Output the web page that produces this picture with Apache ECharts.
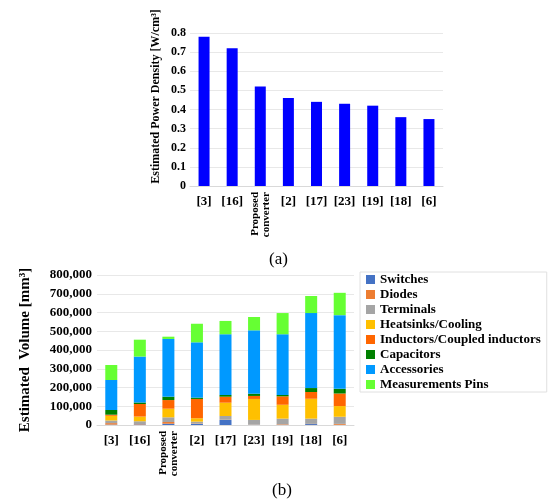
<!DOCTYPE html>
<html>
<head>
<meta charset="utf-8">
<script src="https://cdn.jsdelivr.net/npm/echarts@6/dist/echarts.min.js"></script>
<style>
html, body { margin: 0; padding: 0; background: #fff; }
#main { width: 556px; height: 502px; }
</style>
</head>
<body>
<div id="main"></div>
<script>
var categories = ['[3]', '[16]', 'Proposed\nconverter', '[2]', '[17]', '[23]', '[19]', '[18]', '[6]'];

// (a) power density, W/cm3
var powerDensity = [0.78, 0.72, 0.52, 0.46, 0.44, 0.43, 0.42, 0.36, 0.35];

// (b) volume breakdown, mm3
var switches    = [2000, 3000, 7000, 6000, 27000, 1000, 1000, 5000, 1000];
var diodes      = [8000, 2000, 9000, 2000, 1000, 1000, 3000, 1000, 5000];
var terminals   = [14000, 15000, 25000, 10000, 20000, 25000, 30000, 28000, 38000];
var heatsinks   = [25000, 25000, 46000, 18000, 71000, 112000, 74000, 106000, 57000];
var inductors   = [6000, 67000, 46000, 103000, 32000, 16000, 45000, 36000, 67000];
var capacitors  = [25000, 8000, 18000, 7000, 9000, 12000, 7000, 21000, 25000];
var accessories = [160000, 245000, 308000, 295000, 324000, 338000, 324000, 400000, 393000];
var pins        = [80000, 90000, 12000, 99000, 71000, 71000, 113000, 91000, 119000];

var partNames = ['Switches', 'Diodes', 'Terminals', 'Heatsinks/Cooling',
	'Inductors/Coupled inductors', 'Capacitors', 'Accessories', 'Measurements Pins'];
var partColors = ['#4472C4', '#ED7D31', '#A5A5A5', '#FFC000', '#FF6600', '#008000', '#0099FF', '#66FF33'];
var partData = [switches, diodes, terminals, heatsinks, inductors, capacitors, accessories, pins];

var font = 'Liberation Serif';
var rotIdx = 2;

// two category axes per grid: one flat, one only for the rotated "Proposed converter"
function catAxis(gridIndex, rotated) {
	return {
		type: 'category',
		gridIndex: gridIndex,
		position: 'bottom',
		data: categories,
		axisTick: { show: false },
		axisLine: { show: !rotated, lineStyle: { color: '#d9d9d9' } },
		axisLabel: {
			interval: 0,
			rotate: rotated ? 90 : 0,
			margin: rotated ? 6 : 9,
			color: '#000',
			fontFamily: font,
			fontWeight: 'bold',
			fontSize: rotated ? 11 : 13,
			lineHeight: rotated ? 11 : 13,
			formatter: function(v, i) {
				if (rotated) return i === rotIdx ? v : '';
				return i === rotIdx ? '' : v;
			}
		}
	};
}

var myChart = echarts.init(document.getElementById('main'));
var series = [{
	name: 'density',
	type: 'bar',
	xAxisIndex: 0,
	yAxisIndex: 0,
	barWidth: 11,
	itemStyle: { color: '#0000FF' },
	data: powerDensity
}];
for (var k = 0; k < partNames.length; k++) {
	series.push({
		name: partNames[k],
		type: 'bar',
		stack: 'vol',
		xAxisIndex: 2,
		yAxisIndex: 1,
		barWidth: 12,
		itemStyle: { color: partColors[k] },
		data: partData[k]
	});
}

var option = {
	animation: false,
	backgroundColor: '#fff',
	title: [{
		text: '(a)', left: 264, top: 246,
		textStyle: { fontFamily: font, fontWeight: 'normal', fontSize: 17, color: '#000' }
	}, {
		text: '(b)', left: 267, top: 477,
		textStyle: { fontFamily: font, fontWeight: 'normal', fontSize: 17, color: '#000' }
	}],
	legend: {
		data: partNames,
		orient: 'vertical',
		left: 360,
		top: 272,
		itemWidth: 9,
		itemHeight: 9,
		itemGap: 2,
		padding: [1, 6, 1, 6],
		borderColor: '#e0e0e0',
		borderWidth: 1,
		icon: 'rect',
		textStyle: { fontFamily: font, fontWeight: 'bold', fontSize: 13, lineHeight: 13, color: '#000' }
	},
	grid: [
		{ left: 190, right: 113, top: 33, bottom: 316, outerBoundsMode: 'none' },
		{ left: 97, right: 202, top: 275, bottom: 77, outerBoundsMode: 'none' }
	],
	xAxis: [catAxis(0, false), catAxis(0, true), catAxis(1, false), catAxis(1, true)],
	yAxis: [{
		type: 'value',
		gridIndex: 0,
		min: 0,
		max: 0.8,
		interval: 0.1,
		name: 'Estimated Power Density [W/cm³]',
		nameLocation: 'middle',
		nameRotate: 90,
		nameGap: 28,
		nameTextStyle: { fontFamily: font, fontWeight: 'bold', fontSize: 12, color: '#000', padding: [0, 0, 0, 26] },
		axisLabel: { color: '#000', fontFamily: font, fontWeight: 'bold', fontSize: 12, margin: 4 },
		splitLine: { lineStyle: { color: '#e8e8e8' } }
	}, {
		type: 'value',
		gridIndex: 1,
		min: 0,
		max: 800000,
		interval: 100000,
		name: 'Estimated  Volume [mm³]',
		nameLocation: 'middle',
		nameRotate: 90,
		nameGap: 64,
		nameTextStyle: { fontFamily: font, fontWeight: 'bold', fontSize: 15, color: '#000' },
		axisLabel: {
			color: '#000', fontFamily: font, fontWeight: 'bold', fontSize: 13, margin: 5,
			formatter: function(v) { return v.toLocaleString('en-US'); }
		},
		splitLine: { lineStyle: { color: '#e8e8e8' } }
	}],
	series: series
};
myChart.setOption(option);
</script>
</body>
</html>
